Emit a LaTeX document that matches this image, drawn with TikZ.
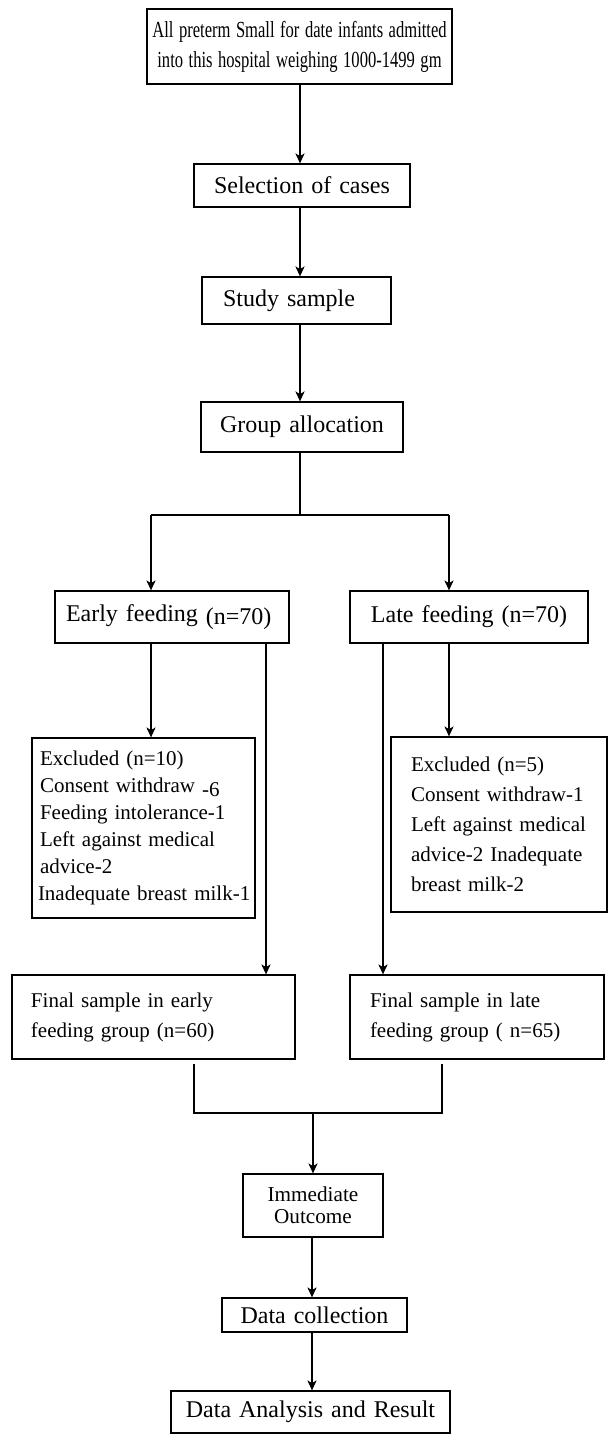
\documentclass[tikz,border=0pt]{standalone}
\usepackage{fontspec}
\setmainfont{Liberation Serif}
\usetikzlibrary{arrows.meta,calc}
\tikzset{
  bx/.style={draw, line width=0.65pt, inner ysep=0pt, font=\fontsize{12}{15}\selectfont},
  sm/.style={font=\fontsize{10.5}{13.5}\selectfont},
  cn/.style={line width=0.65pt},
  arr/.style={line width=0.65pt, -{Stealth[length=5pt,width=4.6pt,inset=1.4pt]}}
}
\newcommand\cond[1]{\scalebox{0.72}[1]{#1}}
\begin{document}
\begin{tikzpicture}[x=0.5pt,y=-0.5pt]
\useasboundingbox (0,0) rectangle (608,1435);
% boxes
\node[bx, font=\fontsize{11.5}{15}\selectfont, text width=148pt, inner xsep=2.25pt, minimum height=37.5pt, align=center] (top) at (299.5,46.5)
  {\cond{All preterm Small for date infants admitted}\\\cond{into this hospital weighing 1000-1499 gm}};
\node[bx, text width=100pt, inner xsep=4pt, minimum height=21.5pt, align=center] (sel) at (302,185.5) {Selection of cases};
\node[bx, text width=73.5pt, inner xsep=10.5pt, minimum height=23.5pt, align=left] (stu) at (296.5,300.5) {Study sample};
\node[bx, text width=93pt, inner xsep=4pt, minimum height=25pt, align=center] (ga) at (302,427) {Group allocation};
\node[bx, text width=106pt, inner xsep=5.5pt, minimum height=26pt, align=left] (early) at (172,617) {Early feeding \raisebox{-1.5pt}{(n=70)}};
\node[bx, text width=111pt, inner xsep=4pt, minimum height=26pt, align=center] (late) at (469,617) {Late feeding (n=70)};
\node[bx, sm, text width=103.5pt, inner xsep=4pt, minimum height=90pt, align=left] (exe) at (143.5,828)
  {Excluded (n=10)\\Consent withdraw \raisebox{-2pt}{-6}\\Feeding intolerance-1\\Left against medical\\advice-2\\\mbox{\hspace*{-1pt}Inadequate breast milk-1}};
\node[bx, font=\fontsize{10.5}{15}\selectfont, text width=88pt, inner xsep=10pt, minimum height=87.5pt, align=left] (exl) at (499,824.5)
  {Excluded (n=5)\\Consent withdraw-1\\Left against medical\\advice-2 Inadequate\\breast milk-2};
\node[bx, font=\fontsize{10.5}{15}\selectfont, text width=122.5pt, inner xsep=9.5pt, minimum height=42pt, align=left] (fe) at (153.5,1017)
  {Final sample in early\\feeding group (n=60)};
\node[bx, font=\fontsize{10.5}{15}\selectfont, text width=107pt, inner xsep=10pt, minimum height=42pt, align=left] (fl) at (477,1017)
  {Final sample in late\\feeding group ( n=65)};
\node[bx, font=\fontsize{10.6}{11}\selectfont, text width=64pt, inner xsep=3pt, minimum height=31.5pt, align=center] (imm) at (313,1205.5)
  {Immediate\\Outcome};
\node[bx, text width=86.5pt, inner xsep=3pt, minimum height=17pt, align=center] (dc) at (314.5,1315) {Data collection};
\node[bx, text width=133.5pt, inner xsep=3pt, minimum height=21pt, align=center] (da) at (310.5,1412) {Data Analysis and Result};
% helper coordinates
\coordinate (sp) at (300,0);
\coordinate (sp2) at (312,0);
\coordinate (bl) at (151,515);
\coordinate (brr) at (449,515);
\coordinate (er) at (266,0);
\coordinate (ll) at (383,0);
\coordinate (m1) at (194,1113);
\coordinate (m2) at (442,1113);
% connectors
\draw[arr] (sp |- top.south) -- (sp |- sel.north);
\draw[arr] (sp |- sel.south) -- (sp |- stu.north);
\draw[arr] (sp |- stu.south) -- (sp |- ga.north);
\draw[cn] (sp |- ga.south) -- (sp |- bl);
\draw[cn] (bl) -- (brr);
\draw[arr] (bl) -- (bl |- early.north);
\draw[arr] (brr) -- (brr |- late.north);
\draw[arr] (early.south -| bl) -- (bl |- exe.north);
\draw[arr] (late.south -| brr) -- (brr |- exl.north);
\draw[arr] (early.south -| er) -- (er |- fe.north);
\draw[arr] (late.south -| ll) -- (ll |- fl.north);
\draw[cn] ([yshift=-2pt]fe.south -| m1) -- (m1) -- (m2) -- ([yshift=-2pt]fl.south -| m2);
\draw[arr] (imm.north |- m1) -- (imm.north);
\draw[arr] (sp2 |- imm.south) -- (sp2 |- dc.north);
\draw[arr] (sp2 |- dc.south) -- (sp2 |- da.north);
\end{tikzpicture}
\end{document}
